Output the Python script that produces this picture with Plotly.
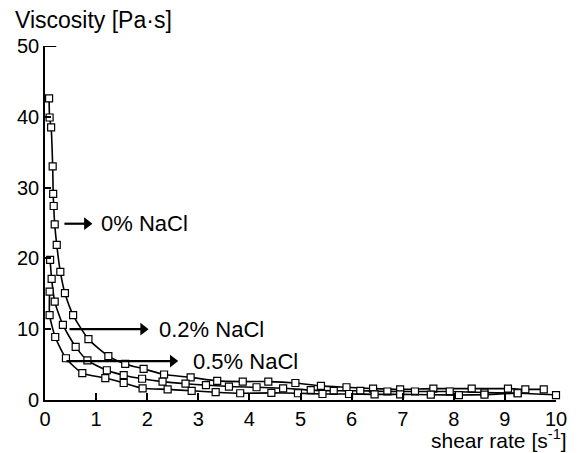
import plotly.graph_objects as go

# 0% NaCl
x0 = [0.08, 0.09, 0.12, 0.15, 0.16, 0.17, 0.19, 0.23, 0.30, 0.39, 0.55, 0.85, 1.24, 1.57, 1.93, 2.33, 2.85, 3.37,
      3.87, 4.37, 4.90, 5.40, 5.90, 6.42, 6.95, 7.60, 8.35, 9.06, 9.40, 9.76]
y0 = [42.6, 39.9, 38.5, 33.0, 29.1, 27.4, 24.8, 21.9, 18.1, 15.1, 12.0, 8.6, 6.2, 5.1, 4.4, 3.6, 3.2, 2.7,
      2.6, 2.6, 2.4, 2.0, 1.8, 1.6, 1.5, 1.6, 1.6, 1.6, 1.5, 1.5]

# 0.2% NaCl
x2 = [0.10, 0.13, 0.19, 0.35, 0.60, 0.83, 1.21, 1.54, 1.90, 2.30, 2.75, 3.15, 3.60, 4.14, 4.66, 5.20, 5.65,
      6.17, 6.70, 7.24, 7.92, 8.60, 9.25]
y2 = [19.8, 17.1, 13.9, 10.6, 7.5, 5.6, 4.2, 3.5, 3.0, 2.6, 2.3, 2.1, 1.9, 1.8, 1.65, 1.4, 1.3,
      1.3, 1.2, 1.2, 1.2, 1.05, 0.95]

# 0.5% NaCl
x5 = [0.09, 0.09, 0.20, 0.41, 0.73, 1.18, 1.54, 1.91, 2.40, 2.87, 3.34, 3.82, 4.43, 4.95, 5.43, 5.95, 6.45,
      6.95, 7.55, 8.10, 8.60, 9.25, 10.00]
y5 = [15.3, 12.0, 8.9, 5.9, 3.8, 3.1, 2.4, 1.65, 1.5, 1.3, 1.1, 0.95, 1.0, 0.95, 0.85, 0.85, 0.8,
      0.8, 0.75, 0.7, 0.75, 0.95, 0.7]

labels = ["0% NaCl", "0.2% NaCl", "0.5% NaCl"]
arrow_start_x = [0.38, 0.48, 0.42]
arrow_end_x = [0.92, 2.02, 2.60]
arrow_y = [24.9, 10.0, 5.5]
label_x = [1.06, 2.2, 2.85]

yticks = [0, 10, 20, 30, 40, 50]
xticks = [0, 1, 2, 3, 4, 5, 6, 7, 8, 9, 10]

FONT = "Liberation Sans, Arial, Helvetica, sans-serif"
FS = 22
TFS = 20

fig = go.Figure()
for xs, ys in [(x0, y0), (x2, y2), (x5, y5)]:
    fig.add_trace(go.Scatter(
        x=xs, y=ys, mode="lines+markers",
        line=dict(color="black", width=1.6, shape="spline", smoothing=0.6),
        marker=dict(symbol="square", size=7, color="white", line=dict(color="black", width=1.2)),
        cliponaxis=False, showlegend=False, hoverinfo="skip",
    ))

# arrows: shaft + head
for sx, ex, ay in zip(arrow_start_x, arrow_end_x, arrow_y):
    fig.add_trace(go.Scatter(x=[sx, ex - 0.12], y=[ay, ay], mode="lines",
                             line=dict(color="black", width=2.2), showlegend=False, hoverinfo="skip"))
    fig.add_trace(go.Scatter(x=[ex - 0.1], y=[ay], mode="markers",
                             marker=dict(symbol="triangle-right", size=11, color="black"),
                             showlegend=False, hoverinfo="skip", cliponaxis=False))

for lab, ay, lx in zip(labels, arrow_y, label_x):
    fig.add_annotation(x=lx, y=ay, xref="x", yref="y", text=lab, showarrow=False,
                       xanchor="left", yanchor="middle", font=dict(size=FS, color="black", family=FONT))

W, H = 579, 453
ml, mr, mt, mb = 45, 15, 46, 53
pw, ph = W - ml - mr, H - mt - mb

def px2paper(px, py):
    return (px - ml) / pw, (H - mb - py) / ph

vx, vy = px2paper(13, 20)
fig.add_annotation(x=vx, y=vy, xref="paper", yref="paper", text="Viscosity [Pa·s]", showarrow=False,
                   xanchor="left", yanchor="middle", font=dict(size=23, color="black", family=FONT))
sx_, sy_ = px2paper(577, 439)
fig.add_annotation(x=sx_, y=sy_, xref="paper", yref="paper", text="shear rate [s<sup>-1</sup>]", showarrow=False,
                   xanchor="right", yanchor="middle", font=dict(size=21, color="black", family=FONT))

fig.update_layout(
    width=W, height=H,
    margin=dict(l=ml, r=mr, t=mt, b=mb),
    paper_bgcolor="white", plot_bgcolor="white",
    font=dict(family=FONT, size=TFS, color="black"),
    xaxis=dict(range=[0, 10], tickvals=xticks, ticks="inside", ticklen=7, tickwidth=1.5,
               tickcolor="black", showline=True, linecolor="black", linewidth=1.6,
               showgrid=False, zeroline=False, tickfont=dict(size=TFS)),
    yaxis=dict(range=[0, 50], tickvals=yticks, ticks="inside", ticklen=6, tickwidth=1.5,
               tickcolor="black", showline=True, linecolor="black", linewidth=1.6,
               showgrid=False, zeroline=False, tickfont=dict(size=TFS)),
)
fig.add_shape(type="line", xref="x", yref="y", x0=0, x1=0.22, y0=50, y1=50,
              line=dict(color="black", width=2))

fig.write_html("out.html")
